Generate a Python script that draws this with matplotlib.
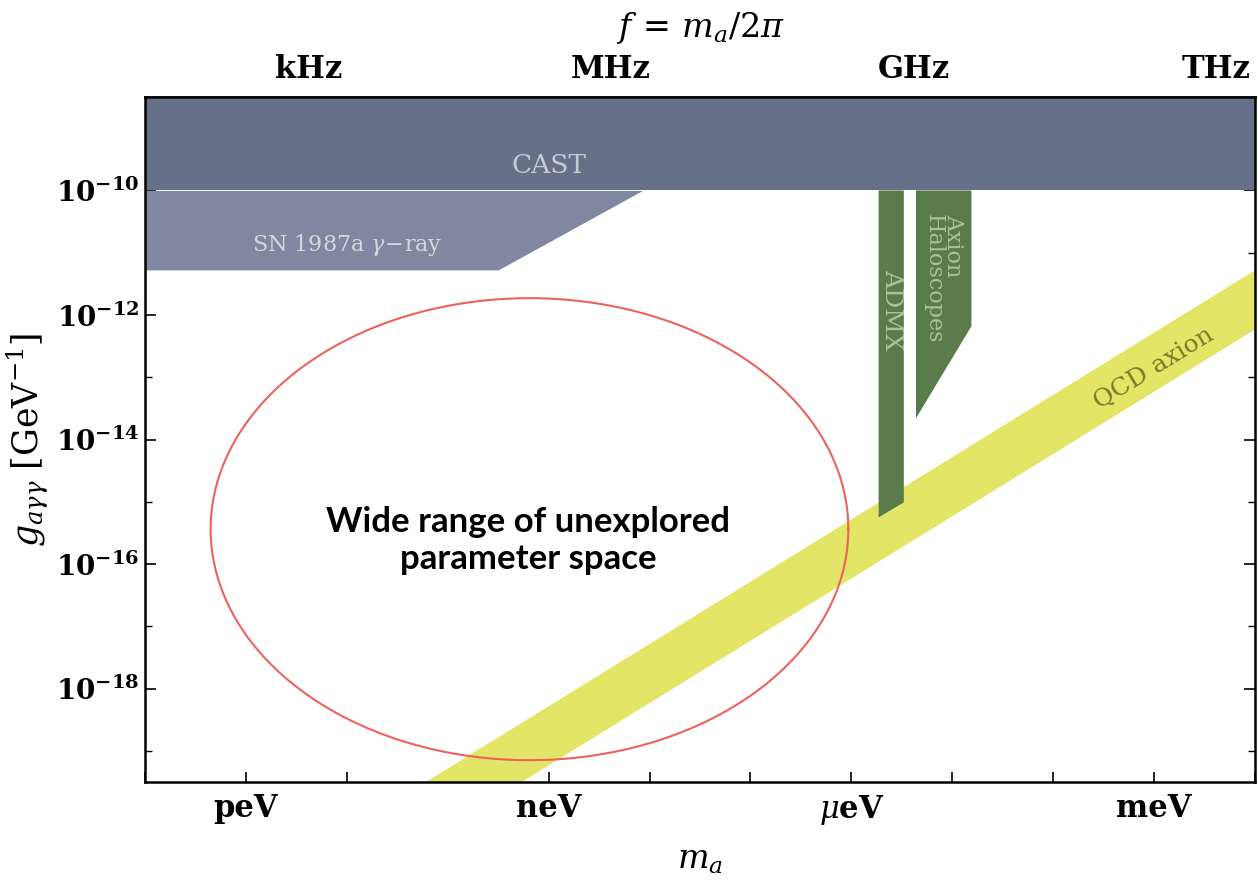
import numpy as np
import matplotlib
matplotlib.use("Agg")
import matplotlib.pyplot as plt
import matplotlib.ticker as mticker

plt.rcParams["font.family"] = "DejaVu Serif"
plt.rcParams["mathtext.fontset"] = "dejavuserif"

# Axion mass (eV) and photon coupling (GeV^-1) ranges
m_range = (1e-13, 1e-2)
g_range = (10**-19.5, 10**-8.5)

# Excluded regions
cast_limit = 1e-10
sn_mass = [1e-13, 10**-9.5, 10**-8.07]
sn_g = [5.3e-12, 5.3e-12, 1e-10]
admx_mass = [10**-5.73, 10**-5.73, 10**-5.48, 10**-5.48]
admx_g = [1e-10, 10**-15.25, 10**-15.01, 1e-10]
halo_mass = [10**-5.36, 10**-5.36, 10**-4.81, 10**-4.81]
halo_g = [1e-10, 10**-13.66, 10**-12.18, 1e-10]

# QCD axion band: g proportional to m
qcd_mass = [1e-11, 1e-2]
qcd_upper_ratio = 10**-9.27
qcd_lower_ratio = 10**-10.22

# Unexplored region (ellipse in log-log space)
ell_center_log = (-9.19, -15.44)
ell_halfwidth_log = (3.16, 3.71)

# Tick labels
mass_decades = list(range(-13, -1))
mass_labels = {-12: "peV", -9: "neV", -6: r"$\mu$eV", -3: "meV"}
freq_decades = list(range(1, 14))
freq_labels = {3: "kHz", 6: "MHz", 9: "GHz", 12: "THz"}
g_ticks = [1e-18, 1e-16, 1e-14, 1e-12, 1e-10]
g_labels = [r"$\mathbf{10^{-18}}$", r"$\mathbf{10^{-16}}$", r"$\mathbf{10^{-14}}$",
            r"$\mathbf{10^{-12}}$", r"$\mathbf{10^{-10}}$"]

HZ_PER_EV = 2.418e14

c_cast = "#667088"
c_sn = "#7f88a0"
c_green = "#5a7b4a"
c_yellow = "#e3e566"
c_ellipse = "#ef625c"

fig = plt.figure(figsize=(12.58, 8.83), dpi=100)
ax = fig.add_axes([0.1153, 0.1144, 0.8823, 0.7757])
ax.set_xscale("log")
ax.set_yscale("log")
ax.set_xlim(*m_range)
ax.set_ylim(*g_range)

# CAST
ax.fill_between(m_range, [cast_limit, cast_limit], [g_range[1] * 10, g_range[1] * 10],
                color=c_cast, lw=0, zorder=2)
ax.text(10**-9.0, 10**-9.6, "CAST", color="#c6cad4", fontsize=19,
        ha="center", va="center", zorder=5)

# SN 1987a
ax.fill_between(sn_mass, sn_g, [cast_limit] * len(sn_mass), color=c_sn, lw=0, zorder=2)
ax.text(10**-11.0, 10**-10.88, r"SN 1987a $\gamma\!-\!$ray", color="#d2d6de", fontsize=16,
        ha="center", va="center", zorder=5)

# ADMX and haloscopes
ax.fill(admx_mass, admx_g, color=c_green, lw=0, zorder=3)
ax.fill(halo_mass, halo_g, color=c_green, lw=0, zorder=3)
ax.text(np.sqrt(admx_mass[0] * admx_mass[2]), 10**-11.92, "ADMX", color="#a6c595",
        fontsize=18, rotation=-90, ha="center", va="center", zorder=5)
ax.text(np.sqrt(halo_mass[0] * halo_mass[2]), 10**-10.38, "Axion\nHaloscopes",
        color="#a6c595", fontsize=16, rotation=-90, ha="center", va="top",
        multialignment="left", linespacing=0.85, zorder=5)

# QCD axion band
qm = np.array(qcd_mass)
ax.fill_between(qm, qm * qcd_lower_ratio, qm * qcd_upper_ratio, color=c_yellow,
                lw=0, zorder=2)
qcd_text_m = 10**-3.0
ax.text(qcd_text_m, qcd_text_m * 10**-9.86, "QCD axion", color="#7b7a2c", fontsize=18,
        rotation=31.5, rotation_mode="anchor", ha="center", va="center", zorder=5)

# Ellipse of unexplored parameter space
t = np.linspace(0, 2 * np.pi, 400)
ex = 10 ** (ell_center_log[0] + ell_halfwidth_log[0] * np.cos(t))
ey = 10 ** (ell_center_log[1] + ell_halfwidth_log[1] * np.sin(t))
ax.plot(ex, ey, color=c_ellipse, lw=1.5, zorder=4)
ax.text(10**-9.2, 10**-15.62, "Wide range of unexplored\nparameter space",
        fontfamily="Lato", fontweight="bold", fontsize=25, ha="center", va="center",
        linespacing=1.2, zorder=6)

# Axes styling
for s in ax.spines.values():
    s.set_linewidth(1.8)
    s.set_zorder(7)

ax.set_xticks([10.0**k for k in mass_decades])
ax.set_xticklabels([mass_labels.get(k, "") for k in mass_decades],
                   fontsize=22, fontweight="bold")
ax.xaxis.set_minor_locator(mticker.NullLocator())
ax.tick_params(axis="x", which="major", direction="in", length=7, width=1.2,
               top=False, pad=8)

ax.set_yticks(g_ticks)
ax.set_yticklabels(g_labels, fontsize=20)
ax.set_yticks([10.0**k for k in range(-19, -8, 2)], minor=True)
ax.yaxis.set_minor_formatter(mticker.NullFormatter())
ax.tick_params(axis="y", which="major", direction="in", length=8, width=1.2,
               right=True, pad=4)
ax.tick_params(axis="y", which="minor", direction="in", length=5, width=1.0, right=True)

ax.set_xlabel(r"$m_a$", fontsize=24, labelpad=12)
ax.set_ylabel(r"$g_{a\gamma\gamma}$ [GeV$^{-1}$]", fontsize=25, labelpad=4)

# Frequency axis on top
sec = ax.secondary_xaxis("top", functions=(lambda m: m * HZ_PER_EV,
                                           lambda f: f / HZ_PER_EV))
sec.set_xscale("log")
sec.set_xticks([10.0**k for k in freq_decades])
sec.set_xticklabels([freq_labels.get(k, "") for k in freq_decades],
                    fontsize=22, fontweight="bold")
sec.xaxis.set_minor_locator(mticker.NullLocator())
sec.tick_params(axis="x", which="major", direction="in", length=7, width=1.2, pad=9)
sec.set_xlabel(r"$f\,=\,m_a/2\pi$", fontsize=24, labelpad=12)
sec.spines["top"].set_linewidth(1.8)

fig.savefig("out.png", dpi=100)
